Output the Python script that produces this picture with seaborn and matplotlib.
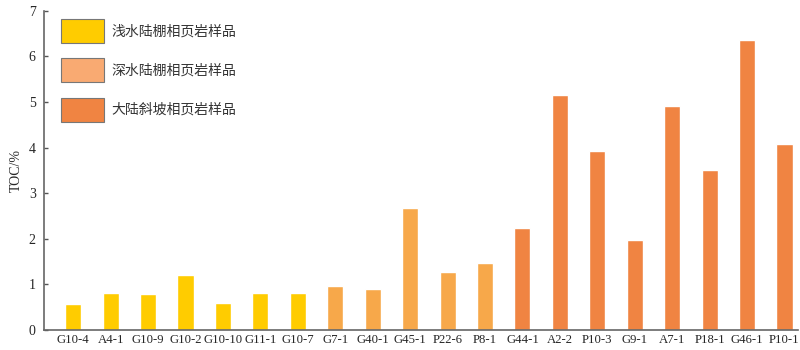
import matplotlib
matplotlib.use("Agg")
import matplotlib.pyplot as plt
import seaborn as sns
import pandas as pd
from matplotlib.patches import Patch

samples = ["G10-4", "A4-1", "G10-9", "G10-2", "G10-10", "G11-1", "G10-7",
           "G7-1", "G40-1", "G45-1", "P22-6", "P8-1",
           "G44-1", "A2-2", "P10-3", "G9-1", "A7-1", "P18-1", "G46-1", "P10-1"]
toc = [0.58, 0.82, 0.78, 1.2, 0.6, 0.82, 0.82,
       0.97, 0.89, 2.68, 1.28, 1.48,
       2.23, 5.15, 3.93, 1.97, 4.92, 3.5, 6.35, 4.08]
groups = ["浅水陆棚相页岩样品"] * 7 + ["深水陆棚相页岩样品"] * 5 + ["大陆斜坡相页岩样品"] * 8
group_names = ["浅水陆棚相页岩样品", "深水陆棚相页岩样品", "大陆斜坡相页岩样品"]
bar_colors = ["#FFCC00", "#F7A84A", "#F08442"]
legend_colors = ["#FFCC00", "#F9AA72", "#F08442"]

df = pd.DataFrame({"sample": samples, "toc": toc, "group": groups})

sns.set_style("white")
plt.rcParams["font.family"] = ["Liberation Serif", "Noto Sans CJK SC"]

fig = plt.figure(figsize=(8, 3.5), dpi=100)
ax = fig.add_axes([0.055, 0.057, 0.942, 0.912])
sns.barplot(data=df, x="sample", y="toc", hue="group", hue_order=group_names,
            palette=bar_colors, dodge=False, width=0.43, ax=ax, legend=False,
            saturation=1)

ax.set_ylim(0, 7)
ax.set_xlim(-0.78, 19.35)
ax.set_yticks(range(8))
ax.set_xlabel("")
ax.set_ylabel("TOC/%", fontsize=10, labelpad=4)
ax.tick_params(axis="y", direction="in", length=3, width=1, color="#555555", labelsize=10, pad=6, left=True)
ax.tick_params(axis="x", length=0, labelsize=9.2, pad=3)
for s in ["top", "right"]:
    ax.spines[s].set_visible(False)
for s in ["left", "bottom"]:
    ax.spines[s].set_color("#666666")
    ax.spines[s].set_linewidth(1.2)

handles = [Patch(facecolor=c, edgecolor="#777777", linewidth=0.8) for c in legend_colors]
leg = ax.legend(handles, group_names, loc="upper left",
                bbox_to_anchor=(61 / 800, 1 - 19 / 350), bbox_transform=fig.transFigure,
                borderpad=0, borderaxespad=0,
                frameon=False, handlelength=3.1, handleheight=2.28, labelspacing=1.1,
                handletextpad=0.55, prop={"family": ["Noto Sans CJK SC"], "size": 10})
for t in leg.get_texts():
    t.set_color("#333333")

fig.savefig("out.png", dpi=100)
